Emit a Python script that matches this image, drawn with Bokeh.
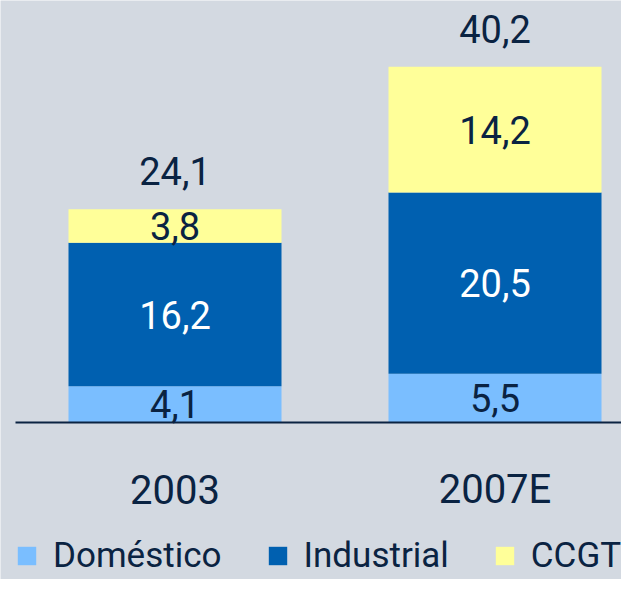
from bokeh.plotting import figure
from bokeh.models import ColumnDataSource, Legend, LegendItem, Range1d
from bokeh.core.properties import value
from bokeh.embed import file_html
from bokeh.resources import INLINE

# ---- data ----
years = ["2003", "2007E"]
domestico = [4.1, 5.5]
industrial = [16.2, 20.5]
ccgt = [3.8, 14.2]
totals = [24.1, 40.2]
series_names = ["Doméstico", "Industrial", "CCGT"]

# ---- style ----
BG = "#d3d9e1"
TXT = "#0a2342"
colors = ["#7abeff", "#0060b0", "#ffff99"]
label_colors = [TXT, "#ffffff", TXT]
FONT = value("Roboto")

W, H = 621, 579
px_x = 320.0     # pixels per category step
px_y = 8.85      # pixels per unit
x_start = -174.5 / px_x
y_start = -(H - 422) / px_y

p = figure(width=W, height=H, output_backend="svg", toolbar_location=None,
           x_range=Range1d(x_start, x_start + W / px_x),
           y_range=Range1d(y_start, y_start + H / px_y),
           x_axis_location=None, y_axis_location=None,
           min_border=0, background_fill_color=BG, border_fill_color=BG,
           outline_line_color=None)
p.grid.visible = False

xs = list(range(len(years)))
fmt = lambda v: f"{v:.1f}".replace(".", ",")

src = ColumnDataSource(dict(x=xs, d=domestico, i=industrial, c=ccgt))
rends = p.vbar_stack(["d", "i", "c"], x="x", width=213 / px_x, color=colors,
                     line_color=None, source=src)

# segment labels
bottoms = [0.0] * len(xs)
for vals, tc in zip([domestico, industrial, ccgt], label_colors):
    mids = [b + v / 2 for b, v in zip(bottoms, vals)]
    p.text(x=xs, y=mids, text=[fmt(v) for v in vals], text_font=FONT,
           text_font_size="38px", text_align="center", text_baseline="middle",
           text_color=tc)
    bottoms = [b + v for b, v in zip(bottoms, vals)]

# totals
p.text(x=xs, y=totals, text=[fmt(v) for v in totals], text_font=FONT,
       text_font_size="38px", text_align="center", text_baseline="middle",
       text_color=TXT, y_offset=-38)

# category labels
p.text(x=xs, y=[0] * len(xs), text=years, text_font=FONT,
       text_font_size="40px", text_align="center", text_baseline="middle",
       text_color=TXT, y_offset=67)

# baseline
p.segment(x0=[(15 - 174.5) / px_x], y0=[0], x1=[x_start + W / px_x], y1=[0],
          line_color=TXT, line_width=2)

items = [LegendItem(label=n, renderers=[r]) for n, r in zip(series_names, rends)]
legend = Legend(items=items, orientation="horizontal", location=(15, 3),
                glyph_width=23, glyph_height=23, label_standoff=15, spacing=44,
                padding=0, margin=0, background_fill_alpha=0, border_line_color=None,
                label_text_font="Roboto", label_text_font_size="35px",
                label_text_color=TXT)
p.add_layout(legend)

html = file_html(p, INLINE)
html = html.replace("<body>", '<body style="background-color:#d3d9e1;">', 1)
open("out.html", "w").write(html)
